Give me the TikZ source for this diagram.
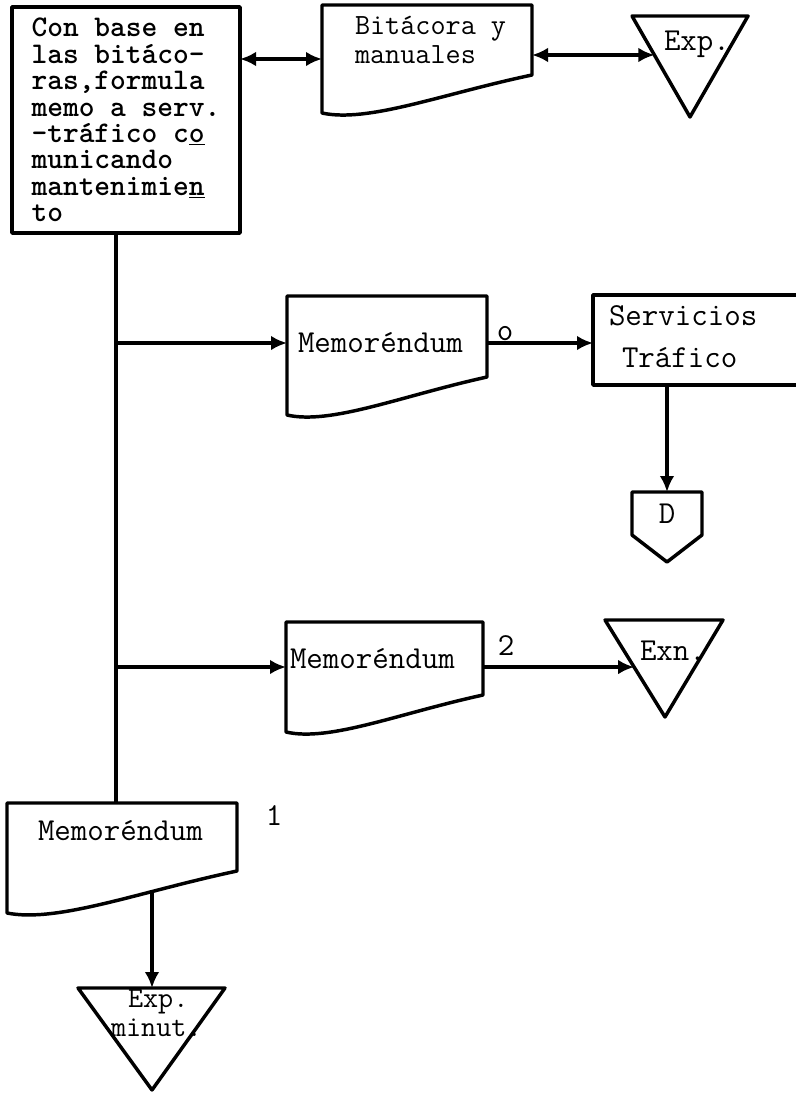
\documentclass[tikz,border=0pt]{standalone}
\usepackage{fontspec}
\usetikzlibrary{arrows.meta,calc}
\newcommand\docoutline[2]{%
  \draw[shapeline] (#1.north west) -- (#1.north east) -- ($(#1.south east)+(0,-#2)$)
    .. controls ($(#1.south east)!0.43!(#1.south west)+(0,-#2*0.5)$)
    and ($(#1.south west)!0.22!(#1.south east)+(0,10)$) .. (#1.south west) -- cycle;}
\begin{document}
\begin{tikzpicture}[x=0.75pt,y=-0.75pt,
  shapeline/.style={draw,line width=2.6pt,line join=round},
  box/.style={shapeline,inner sep=0pt,outer sep=0pt},
  docnode/.style={inner sep=0pt,outer sep=0pt},
  conn/.style={line width=2.4pt},
  arr/.style={conn,-{Latex[length=12pt,width=11pt]}},
  darr/.style={conn,{Latex[length=12pt,width=11pt]}-{Latex[length=12pt,width=11pt]}},
  txt/.style={inner sep=0pt,outer sep=0pt,font=\ttfamily\fontsize{24}{19.8}\selectfont},
  stxt/.style={inner sep=0pt,outer sep=0pt,font=\ttfamily\fontsize{22}{19.8}\selectfont},
  btxt/.style={inner sep=0pt,font=\ttfamily\bfseries\fontsize{22.5}{19.8}\selectfont},
]
\useasboundingbox (0,0) rectangle (796,1093);

% main process box
\node[box,btxt,align=left,minimum width=171pt,minimum height=169.5pt,anchor=north west] (main) at (12,7)
  {Con base en\\las bitáco-\\ras,formula\\memo a serv.\\-tráfico c\underline{o}\\municando\\mantenimie\underline{n}\\to};

% Bitacora y manuales document
\node[docnode,minimum width=157.5pt,minimum height=81pt,anchor=north west] (bit) at (322,5) {};
\docoutline{bit}{38}
\node[stxt,anchor=base west] (bit1) at (355,34) {Bitácora y};
\node[stxt,anchor=base west] (bit2) at (355,63) {manuales};

% top triangle Exp.
\coordinate (t1a) at (632,16);
\coordinate (t1b) at (748,16);
\coordinate (t1c) at (690,117);
\draw[shapeline] (t1a) -- (t1b) -- (t1c) -- cycle;
\node[txt,anchor=base west] (t1txt) at (664,50) {Exp.};
\coordinate (t1in) at ($(t1a)!0.386!(t1c)$);

% Memorandum o
\node[docnode,minimum width=150pt,minimum height=89.25pt,anchor=north west] (memoA) at (287,296) {};
\docoutline{memoA}{38}
\node[txt,anchor=base west] (memoAtxt) at (298,352) {Memoréndum};
\node[txt,anchor=base] (labo) at (505,340) {o};

% Servicios Trafico
\node[box,minimum width=159pt,minimum height=67.5pt,anchor=north west] (serv) at (593,295) {};
\node[txt,anchor=base west] (serv1) at (609,325) {Servicios};
\node[txt,anchor=base west] (serv2) at (622,367) {Tráfico};

% D connector
\coordinate (dtop) at (667,492);
\draw[shapeline] (632,492) -- (702,492) -- (702,535) -- (667,562) -- (632,535) -- cycle;
\node[txt,anchor=base] (dtxt) at (667,523) {D};

% Memorandum 2
\node[docnode,minimum width=147.75pt,minimum height=82.5pt,anchor=north west] (memoB) at (286,622) {};
\docoutline{memoB}{37}
\node[txt,anchor=base west] (memoBtxt) at (290,668) {Memoréndum};
\node[txt,anchor=base] (lab2) at (506,655) {2};

% second triangle
\coordinate (t2a) at (605,620);
\coordinate (t2b) at (723,620);
\coordinate (t2c) at (665,717);
\draw[shapeline] (t2a) -- (t2b) -- (t2c) -- cycle;
\node[txt,anchor=base west] (t2txt) at (640,660) {Exn.};
\coordinate (t2in) at ($(t2a)!0.485!(t2c)$);

% Memorandum 1
\node[docnode,minimum width=172.5pt,minimum height=82.5pt,anchor=north west] (memoC) at (7,803) {};
\docoutline{memoC}{42}
\node[txt,anchor=base west] (memoCtxt) at (38,840) {Memoréndum};
\node[txt,anchor=base] (lab1) at (274,825) {1};
\coordinate (m1out) at (152,891);

% bottom triangle
\coordinate (t3a) at (78,988);
\coordinate (t3b) at (225,988);
\coordinate (t3c) at (152,1090);
\coordinate (t3top) at (152,988);
\draw[shapeline] (t3a) -- (t3b) -- (t3c) -- cycle;
\node[stxt,anchor=base west] (t3txt1) at (128,1007) {Exp.};
\node[stxt,anchor=base west] (t3txt2) at (111,1036) {minut.};

% connectors
\coordinate (j1) at (116,343);
\coordinate (j2) at (116,667);
\draw[darr] (main.east |- bit.west) -- (bit.west);
\draw[darr] (t1in -| bit.east) -- (t1in);
\draw[conn] (main.south -| j1) -- (memoC.north -| j1);
\draw[arr] (j1) -- (j1 -| memoA.west);
\draw[arr] (j1 -| memoA.east) -- (j1 -| serv.west);
\draw[arr] (serv.south -| dtop) -- (dtop);
\draw[arr] (j2) -- (j2 -| memoB.west);
\draw[arr] (t2in -| memoB.east) -- (t2in);
\draw[arr] (m1out) -- (t3top);
\end{tikzpicture}
\end{document}
